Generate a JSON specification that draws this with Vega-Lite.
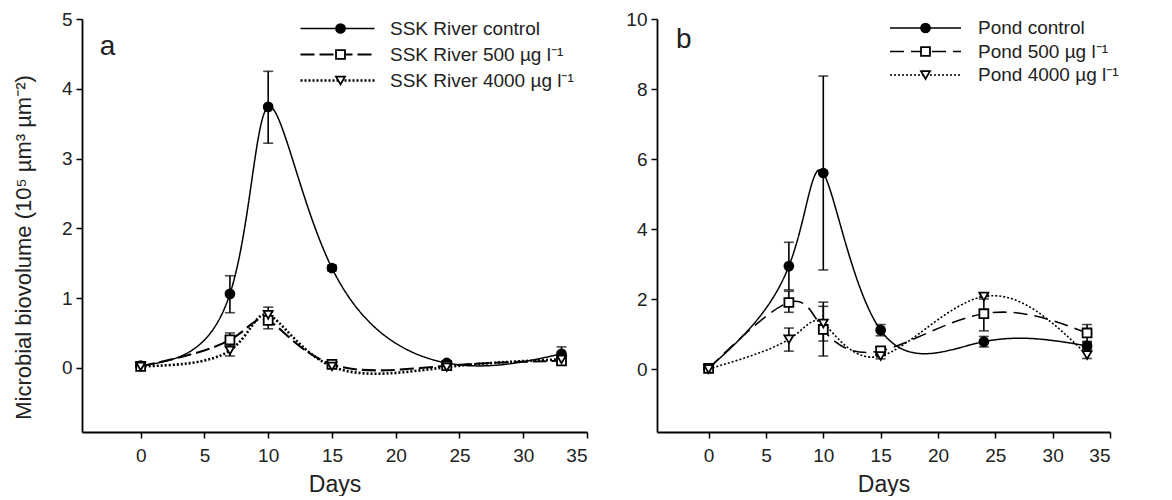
{
  "$schema": "https://vega.github.io/schema/vega-lite/v6.json",
  "background": "white",
  "padding": {"left": 12, "top": 10, "right": 0, "bottom": 0},
  "config": {
    "view": {"stroke": null},
    "font": "Liberation Sans",
    "axis": {
      "grid": false,
      "domainColor": "black",
      "domainWidth": 1.8,
      "tickColor": "black",
      "tickWidth": 1.5,
      "tickSize": 6,
      "labelColor": "#222",
      "labelFontSize": 19,
      "labelPadding": 4,
      "titleFontSize": 23,
      "titleFontWeight": "normal",
      "titleColor": "#222"
    },
    "legend": {"labelColor": "#222", "labelLimit": 400, "clipHeight": 20, "padding": 0, "title": null, "labelFontSize": 19}
  },
  "bounds": "flush",
  "spacing": 70,
  "resolve": {
    "scale": {"strokeDash": "independent", "strokeWidth": "independent", "shape": "independent", "fill": "independent", "stroke": "independent"},
    "legend": {"strokeDash": "independent", "strokeWidth": "independent", "shape": "independent", "fill": "independent", "stroke": "independent"}
  },
  "hconcat": [
    {
      "width": 505,
      "height": 413,
      "data": {"values": [
        {"day": 0, "value": 0.03, "lo": 0.01, "hi": 0.05, "series": "SSK River control", "marker": "control"},
        {"day": 7, "value": 1.06, "lo": 0.79, "hi": 1.32, "series": "SSK River control", "marker": "control"},
        {"day": 10, "value": 3.74, "lo": 3.22, "hi": 4.25, "series": "SSK River control", "marker": "control"},
        {"day": 15, "value": 1.43, "lo": 1.39, "hi": 1.47, "series": "SSK River control", "marker": "control"},
        {"day": 24, "value": 0.07, "lo": 0.04, "hi": 0.10, "series": "SSK River control", "marker": "control"},
        {"day": 33, "value": 0.20, "lo": 0.10, "hi": 0.30, "series": "SSK River control", "marker": "control"},
        {"day": 0, "value": 0.02, "lo": 0.01, "hi": 0.03, "series": "SSK River 500 µg l⁻¹", "marker": "500"},
        {"day": 7, "value": 0.40, "lo": 0.30, "hi": 0.50, "series": "SSK River 500 µg l⁻¹", "marker": "500"},
        {"day": 10, "value": 0.68, "lo": 0.56, "hi": 0.80, "series": "SSK River 500 µg l⁻¹", "marker": "500"},
        {"day": 15, "value": 0.05, "lo": 0.03, "hi": 0.07, "series": "SSK River 500 µg l⁻¹", "marker": "500"},
        {"day": 24, "value": 0.03, "lo": 0.02, "hi": 0.04, "series": "SSK River 500 µg l⁻¹", "marker": "500"},
        {"day": 33, "value": 0.10, "lo": 0.06, "hi": 0.14, "series": "SSK River 500 µg l⁻¹", "marker": "500"},
        {"day": 0, "value": 0.02, "lo": 0.01, "hi": 0.03, "series": "SSK River 4000 µg l⁻¹", "marker": "4000"},
        {"day": 7, "value": 0.25, "lo": 0.17, "hi": 0.33, "series": "SSK River 4000 µg l⁻¹", "marker": "4000"},
        {"day": 10, "value": 0.76, "lo": 0.65, "hi": 0.87, "series": "SSK River 4000 µg l⁻¹", "marker": "4000"},
        {"day": 15, "value": 0.02, "lo": 0.01, "hi": 0.03, "series": "SSK River 4000 µg l⁻¹", "marker": "4000"},
        {"day": 24, "value": 0.01, "lo": 0.0, "hi": 0.02, "series": "SSK River 4000 µg l⁻¹", "marker": "4000"},
        {"day": 33, "value": 0.12, "lo": 0.08, "hi": 0.16, "series": "SSK River 4000 µg l⁻¹", "marker": "4000"}
      ]},
      "encoding": {
        "y": {"type": "quantitative", "title": "Microbial biovolume (10⁵ µm³ µm⁻²)",
          "scale": {"domain": [-0.92, 5], "nice": false, "zero": false},
          "axis": {"values": [0, 1, 2, 3, 4, 5], "titlePadding": 26, "titleFontSize": 22, "titleY": 228}}
      },
      "layer": [
        {
          "mark": {"type": "rule", "color": "black", "strokeWidth": 1.6},
          "encoding": {
            "x": {"field": "day", "type": "quantitative", "title": "Days",
              "scale": {"domain": [-4.6, 35], "nice": false, "zero": false},
              "axis": {"values": [0, 5, 10, 15, 20, 25, 30, 35], "titlePadding": 8, "labelPadding": 8}},
            "y": {"field": "lo", "type": "quantitative"}, "y2": {"field": "hi"}}
        },
        {
          "mark": {"type": "tick", "orient": "horizontal", "color": "black", "size": 10, "thickness": 1.6},
          "encoding": {"x": {"field": "day", "type": "quantitative"}, "y": {"field": "hi", "type": "quantitative"}}
        },
        {
          "mark": {"type": "tick", "orient": "horizontal", "color": "black", "size": 10, "thickness": 1.6},
          "encoding": {"x": {"field": "day", "type": "quantitative"}, "y": {"field": "lo", "type": "quantitative"}}
        },
        {
          "mark": {"type": "line", "interpolate": "natural", "color": "black"},
          "encoding": {
            "x": {"field": "day", "type": "quantitative"},
            "y": {"field": "value", "type": "quantitative"},
            "strokeDash": {"field": "series", "type": "nominal",
              "scale": {"domain": ["SSK River control", "SSK River 500 µg l⁻¹", "SSK River 4000 µg l⁻¹"], "range": [[1, 0], [14, 5], [2, 2]]},
              "legend": {"orient": "none", "legendX": 217, "legendY": -0.5, "symbolType": "stroke", "symbolSize": 5476,
                "symbolStrokeColor": "black", "labelOffset": 14, "rowPadding": 6}},
            "strokeWidth": {"field": "series", "type": "nominal",
              "scale": {"domain": ["SSK River control", "SSK River 500 µg l⁻¹", "SSK River 4000 µg l⁻¹"], "range": [1.5, 2.6, 2.4]},
              "legend": {"orient": "none", "legendX": 217, "legendY": -0.5, "symbolType": "stroke", "symbolSize": 5476,
                "symbolStrokeColor": "black", "labelOffset": 14, "rowPadding": 6}}
          }
        },
        {
          "mark": {"type": "point", "strokeWidth": 1.8, "size": 80, "opacity": 1},
          "encoding": {
            "x": {"field": "day", "type": "quantitative"},
            "y": {"field": "value", "type": "quantitative"},
            "shape": {"field": "marker", "type": "nominal",
              "scale": {"domain": ["control", "500", "4000"], "range": ["circle", "square", "triangle-down"]},
              "legend": {"orient": "none", "legendX": 249, "legendY": -0.5, "symbolSize": 80, "symbolStrokeWidth": 1.8,
                "labelExpr": "''", "rowPadding": 6}},
            "fill": {"field": "marker", "type": "nominal",
              "scale": {"domain": ["control", "500", "4000"], "range": ["black", "white", "white"]},
              "legend": {"orient": "none", "legendX": 249, "legendY": -0.5, "symbolSize": 80, "symbolStrokeWidth": 1.8,
                "labelExpr": "''", "rowPadding": 6}},
            "stroke": {"field": "marker", "type": "nominal",
              "scale": {"domain": ["control", "500", "4000"], "range": ["black", "black", "black"]},
              "legend": {"orient": "none", "legendX": 249, "legendY": -0.5, "symbolSize": 80, "symbolStrokeWidth": 1.8,
                "labelExpr": "''", "rowPadding": 6}}
          }
        },
        {
          "data": {"values": [{"label": "a"}]},
          "mark": {"type": "text", "fontSize": 28, "align": "left", "baseline": "middle", "color": "#222"},
          "encoding": {
            "text": {"field": "label", "type": "nominal"},
            "x": {"datum": -3.2, "type": "quantitative"},
            "y": {"datum": 4.6, "type": "quantitative"}
          }
        }
      ]
    },
    {
      "width": 453,
      "height": 413,
      "data": {"values": [
        {"day": 0, "value": 0.02, "lo": 0.0, "hi": 0.04, "series": "Pond control", "marker": "control"},
        {"day": 7, "value": 2.94, "lo": 2.26, "hi": 3.62, "series": "Pond control", "marker": "control"},
        {"day": 10, "value": 5.60, "lo": 2.83, "hi": 8.37, "series": "Pond control", "marker": "control"},
        {"day": 15, "value": 1.11, "lo": 0.95, "hi": 1.27, "series": "Pond control", "marker": "control"},
        {"day": 24, "value": 0.78, "lo": 0.63, "hi": 0.93, "series": "Pond control", "marker": "control"},
        {"day": 33, "value": 0.66, "lo": 0.56, "hi": 0.76, "series": "Pond control", "marker": "control"},
        {"day": 0, "value": 0.02, "lo": 0.0, "hi": 0.04, "series": "Pond 500 µg l⁻¹", "marker": "500"},
        {"day": 7, "value": 1.90, "lo": 1.62, "hi": 2.22, "series": "Pond 500 µg l⁻¹", "marker": "500"},
        {"day": 10, "value": 1.13, "lo": 0.37, "hi": 1.91, "series": "Pond 500 µg l⁻¹", "marker": "500"},
        {"day": 15, "value": 0.52, "lo": 0.42, "hi": 0.62, "series": "Pond 500 µg l⁻¹", "marker": "500"},
        {"day": 24, "value": 1.58, "lo": 1.09, "hi": 2.07, "series": "Pond 500 µg l⁻¹", "marker": "500"},
        {"day": 33, "value": 1.03, "lo": 0.79, "hi": 1.27, "series": "Pond 500 µg l⁻¹", "marker": "500"},
        {"day": 0, "value": 0.0, "lo": -0.02, "hi": 0.02, "series": "Pond 4000 µg l⁻¹", "marker": "4000"},
        {"day": 7, "value": 0.85, "lo": 0.51, "hi": 1.17, "series": "Pond 4000 µg l⁻¹", "marker": "4000"},
        {"day": 10, "value": 1.30, "lo": 0.80, "hi": 1.79, "series": "Pond 4000 µg l⁻¹", "marker": "4000"},
        {"day": 15, "value": 0.37, "lo": 0.29, "hi": 0.45, "series": "Pond 4000 µg l⁻¹", "marker": "4000"},
        {"day": 24, "value": 2.07, "lo": 2.00, "hi": 2.14, "series": "Pond 4000 µg l⁻¹", "marker": "4000"},
        {"day": 33, "value": 0.40, "lo": 0.30, "hi": 0.50, "series": "Pond 4000 µg l⁻¹", "marker": "4000"}
      ]},
      "encoding": {
        "y": {"type": "quantitative", "title": null,
          "scale": {"domain": [-1.8, 10], "nice": false, "zero": false},
          "axis": {"values": [0, 2, 4, 6, 8, 10]}}
      },
      "layer": [
        {
          "mark": {"type": "rule", "color": "black", "strokeWidth": 1.6},
          "encoding": {
            "x": {"field": "day", "type": "quantitative", "title": "Days",
              "scale": {"domain": [-4.5, 35], "nice": false, "zero": false},
              "axis": {"values": [0, 5, 10, 15, 20, 25, 30, 35], "titlePadding": 8, "labelPadding": 8}},
            "y": {"field": "lo", "type": "quantitative"}, "y2": {"field": "hi"}}
        },
        {
          "mark": {"type": "tick", "orient": "horizontal", "color": "black", "size": 10, "thickness": 1.6},
          "encoding": {"x": {"field": "day", "type": "quantitative"}, "y": {"field": "hi", "type": "quantitative"}}
        },
        {
          "mark": {"type": "tick", "orient": "horizontal", "color": "black", "size": 10, "thickness": 1.6},
          "encoding": {"x": {"field": "day", "type": "quantitative"}, "y": {"field": "lo", "type": "quantitative"}}
        },
        {
          "mark": {"type": "line", "interpolate": "natural", "color": "black"},
          "encoding": {
            "x": {"field": "day", "type": "quantitative"},
            "y": {"field": "value", "type": "quantitative"},
            "strokeDash": {"field": "series", "type": "nominal",
              "scale": {"domain": ["Pond control", "Pond 500 µg l⁻¹", "Pond 4000 µg l⁻¹"], "range": [[1, 0], [14, 7], [2, 2]]},
              "legend": {"orient": "none", "legendX": 232, "legendY": -1, "symbolType": "stroke", "symbolSize": 5041,
                "symbolStrokeColor": "black", "labelOffset": 16, "rowPadding": 3.5}},
            "strokeWidth": {"field": "series", "type": "nominal",
              "scale": {"domain": ["Pond control", "Pond 500 µg l⁻¹", "Pond 4000 µg l⁻¹"], "range": [1.5, 1.6, 2.4]},
              "legend": {"orient": "none", "legendX": 232, "legendY": -1, "symbolType": "stroke", "symbolSize": 5041,
                "symbolStrokeColor": "black", "labelOffset": 16, "rowPadding": 3.5}}
          }
        },
        {
          "mark": {"type": "point", "strokeWidth": 1.8, "size": 80, "opacity": 1},
          "encoding": {
            "x": {"field": "day", "type": "quantitative"},
            "y": {"field": "value", "type": "quantitative"},
            "shape": {"field": "marker", "type": "nominal",
              "scale": {"domain": ["control", "500", "4000"], "range": ["circle", "square", "triangle-down"]},
              "legend": {"orient": "none", "legendX": 259, "legendY": -1, "symbolSize": 80, "symbolStrokeWidth": 1.8,
                "labelExpr": "''", "rowPadding": 3.5}},
            "fill": {"field": "marker", "type": "nominal",
              "scale": {"domain": ["control", "500", "4000"], "range": ["black", "white", "white"]},
              "legend": {"orient": "none", "legendX": 259, "legendY": -1, "symbolSize": 80, "symbolStrokeWidth": 1.8,
                "labelExpr": "''", "rowPadding": 3.5}},
            "stroke": {"field": "marker", "type": "nominal",
              "scale": {"domain": ["control", "500", "4000"], "range": ["black", "black", "black"]},
              "legend": {"orient": "none", "legendX": 259, "legendY": -1, "symbolSize": 80, "symbolStrokeWidth": 1.8,
                "labelExpr": "''", "rowPadding": 3.5}}
          }
        },
        {
          "data": {"values": [{"label": "b"}]},
          "mark": {"type": "text", "fontSize": 28, "align": "left", "baseline": "middle", "color": "#222"},
          "encoding": {
            "text": {"field": "label", "type": "nominal"},
            "x": {"datum": -2.85, "type": "quantitative"},
            "y": {"datum": 9.4, "type": "quantitative"}
          }
        }
      ]
    }
  ]
}
